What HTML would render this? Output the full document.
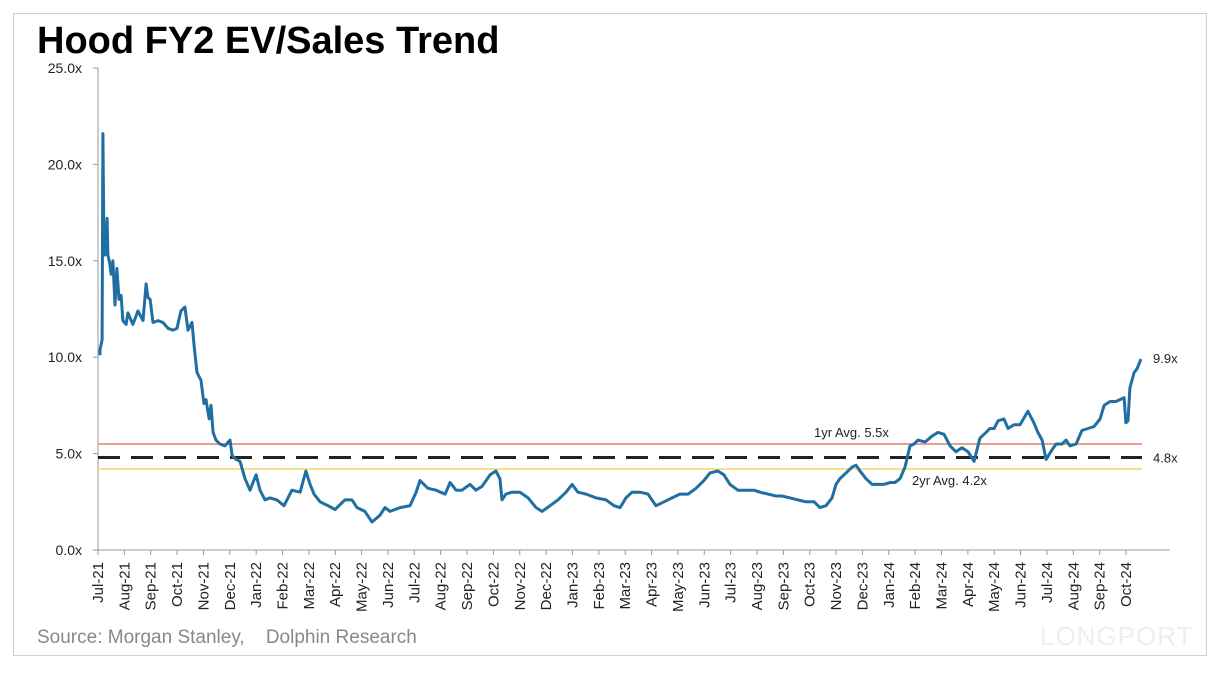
<!DOCTYPE html>
<html><head><meta charset="utf-8"><style>
body{margin:0;background:#fff;width:1212px;height:670px;overflow:hidden;font-family:"Liberation Sans",sans-serif}
</style></head><body>
<svg width="1212" height="670">
<rect x="13.5" y="13.5" width="1193" height="642" fill="none" stroke="#cfcfcf"/>
<text x="37" y="53" font-size="38" font-weight="bold" fill="#000" font-family="'Liberation Sans',sans-serif">Hood FY2 EV/Sales Trend</text>
<g id="axes"></g>
<g id="series"></g>
<text x="37" y="643" font-size="19" fill="#888">Source: Morgan Stanley,&#160;&#160;&#160; Dolphin Research</text>
<text x="1040" y="645" font-size="26" fill="#eee" letter-spacing="1">LONGPORT</text>
</svg>
<script>
const yTicks=[0,5,10,15,20,25];
const monthLabels=["Jul-21","Aug-21","Sep-21","Oct-21","Nov-21","Dec-21","Jan-22","Feb-22","Mar-22","Apr-22","May-22","Jun-22","Jul-22","Aug-22","Sep-22","Oct-22","Nov-22","Dec-22","Jan-23","Feb-23","Mar-23","Apr-23","May-23","Jun-23","Jul-23","Aug-23","Sep-23","Oct-23","Nov-23","Dec-23","Jan-24","Feb-24","Mar-24","Apr-24","May-24","Jun-24","Jul-24","Aug-24","Sep-24","Oct-24"];
const months=[0.0,0.0,0.08,0.11,0.15,0.19,0.27,0.30,0.38,0.42,0.49,0.57,0.64,0.72,0.80,0.87,0.99,1.06,1.25,1.44,1.63,1.75,1.82,1.90,2.01,2.20,2.39,2.58,2.77,2.92,3.07,3.22,3.34,3.49,3.57,3.68,3.83,3.94,4.02,4.14,4.21,4.29,4.40,4.55,4.74,4.93,5.01,5.16,5.31,5.50,5.69,5.92,6.07,6.26,6.45,6.71,6.98,7.28,7.59,7.81,7.97,8.12,8.35,8.65,8.92,9.29,9.56,9.75,10.05,10.32,10.62,10.81,11.00,11.38,11.76,11.99,12.14,12.44,12.75,13.09,13.28,13.51,13.73,14.04,14.26,14.49,14.80,15.02,15.17,15.25,15.40,15.63,15.93,16.24,16.54,16.77,17.07,17.37,17.68,17.91,18.13,18.44,18.82,19.20,19.50,19.73,19.95,20.18,20.49,20.79,21.09,21.40,21.70,22.00,22.31,22.61,22.91,23.14,23.44,23.67,23.90,24.20,24.51,24.81,25.04,25.34,25.64,25.87,26.18,26.48,26.78,27.09,27.31,27.54,27.77,27.92,28.07,28.30,28.53,28.68,28.83,29.06,29.29,29.51,29.74,29.97,30.16,30.35,30.54,30.73,30.88,31.03,31.30,31.56,31.79,32.02,32.25,32.47,32.70,32.93,33.16,33.38,33.61,33.76,33.92,34.07,34.29,34.45,34.67,34.90,35.20,35.43,35.58,35.74,35.89,36.12,36.27,36.49,36.65,36.80,37.03,37.25,37.48,37.71,37.94,38.09,38.32,38.54,38.69,38.85,38.92,39.00,39.07,39.23,39.34,39.49];
const evSales=[10.1,10.4,10.9,21.6,15.6,15.3,17.2,15.3,14.8,14.3,15.0,12.7,14.6,13.0,13.2,11.9,11.7,12.3,11.7,12.4,11.9,13.8,13.1,13.0,11.8,11.9,11.8,11.5,11.4,11.5,12.4,12.6,11.4,11.8,10.6,9.2,8.8,7.6,7.8,6.8,7.5,6.1,5.7,5.5,5.4,5.7,4.9,4.7,4.6,3.7,3.1,3.9,3.1,2.6,2.7,2.6,2.3,3.1,3.0,4.1,3.4,2.9,2.5,2.3,2.1,2.6,2.6,2.2,2.0,1.45,1.8,2.2,2.0,2.2,2.3,3.0,3.6,3.2,3.1,2.9,3.5,3.1,3.1,3.4,3.1,3.3,3.9,4.1,3.7,2.6,2.9,3.0,3.0,2.7,2.2,2.0,2.3,2.6,3.0,3.4,3.0,2.9,2.7,2.6,2.3,2.2,2.7,3.0,3.0,2.9,2.3,2.5,2.7,2.9,2.9,3.2,3.6,4.0,4.1,3.9,3.4,3.1,3.1,3.1,3.0,2.9,2.8,2.8,2.7,2.6,2.5,2.5,2.2,2.3,2.7,3.4,3.7,4.0,4.3,4.4,4.1,3.7,3.4,3.4,3.4,3.5,3.5,3.7,4.3,5.4,5.5,5.7,5.6,5.9,6.1,6.0,5.4,5.1,5.3,5.1,4.6,5.8,6.1,6.3,6.3,6.7,6.8,6.3,6.5,6.5,7.2,6.6,6.1,5.7,4.7,5.2,5.5,5.5,5.7,5.4,5.5,6.2,6.3,6.4,6.8,7.5,7.7,7.7,7.8,7.9,6.6,6.7,8.4,9.2,9.4,9.9];
const avg1yr=5.5, avg2yr=4.2, avgAll=4.8, lastVal=9.9;

const NS="http://www.w3.org/2000/svg";
const X0=100, DX=26.36, Y0=550, YS=19.28, XR=1170;
const xs=m=>X0+m*DX, ys=v=>Y0-v*YS;
function mk(tag,attrs,parent,text){const e=document.createElementNS(NS,tag);for(const k in attrs)e.setAttribute(k,attrs[k]);if(text!=null)e.textContent=text;parent.appendChild(e);return e;}
const ax=document.getElementById('axes'), sg=document.getElementById('series');
let e=mk('line',{x1:98,y1:ys(25),x2:98,y2:Y0,stroke:'#999','stroke-width':1},ax);


e=mk('line',{x1:98,y1:Y0,x2:XR,y2:Y0,stroke:'#999','stroke-width':1},ax);


yTicks.forEach(t=>{
  mk('line',{x1:93,y1:ys(t),x2:98,y2:ys(t),stroke:'#999'},ax);
  const l=mk('text',{x:82,y:ys(t)+5,'font-size':14,fill:'#222','text-anchor':'end'},ax,t.toFixed(1)+'x');
  
  
});
monthLabels.forEach((m,i)=>{
  const x=xs(i)-2;
  mk('line',{x1:x,y1:Y0,x2:x,y2:Y0+5,stroke:'#999'},ax);
  const l=mk('text',{x:0,y:0,'font-size':15,fill:'#222','text-anchor':'end',transform:`translate(${x+5},562) rotate(-90)`},ax,m);
  
  
});
e=mk('line',{x1:98,y1:ys(avg1yr),x2:1142,y2:ys(avg1yr),stroke:'#e8a08a','stroke-width':2},sg);


e=mk('line',{x1:98,y1:ys(avg2yr),x2:1142,y2:ys(avg2yr),stroke:'#f7e08a','stroke-width':2},sg);


e=mk('line',{x1:98,y1:ys(avgAll),x2:1142,y2:ys(avgAll),stroke:'#222','stroke-width':3,'stroke-dasharray':'22 11'},sg);


e=mk('path',{d:months.map((m,i)=>(i?'L':'M')+xs(m).toFixed(1)+','+ys(evSales[i]).toFixed(1)).join(''),fill:'none',stroke:'#1f6fa3','stroke-width':3,'stroke-linejoin':'round'},sg);


e=mk('text',{x:814,y:ys(avg1yr)-7,'font-size':13,fill:'#222'},sg,'1yr Avg. '+avg1yr.toFixed(1)+'x');


e=mk('text',{x:912,y:ys(avg2yr)+16,'font-size':13,fill:'#222'},sg,'2yr Avg. '+avg2yr.toFixed(1)+'x');


e=mk('text',{x:1153,y:ys(avgAll)+5,'font-size':13,fill:'#222'},sg,avgAll.toFixed(1)+'x');


e=mk('text',{x:1153,y:ys(lastVal)+4,'font-size':13,fill:'#222'},sg,lastVal.toFixed(1)+'x');


</script>
</body></html>
